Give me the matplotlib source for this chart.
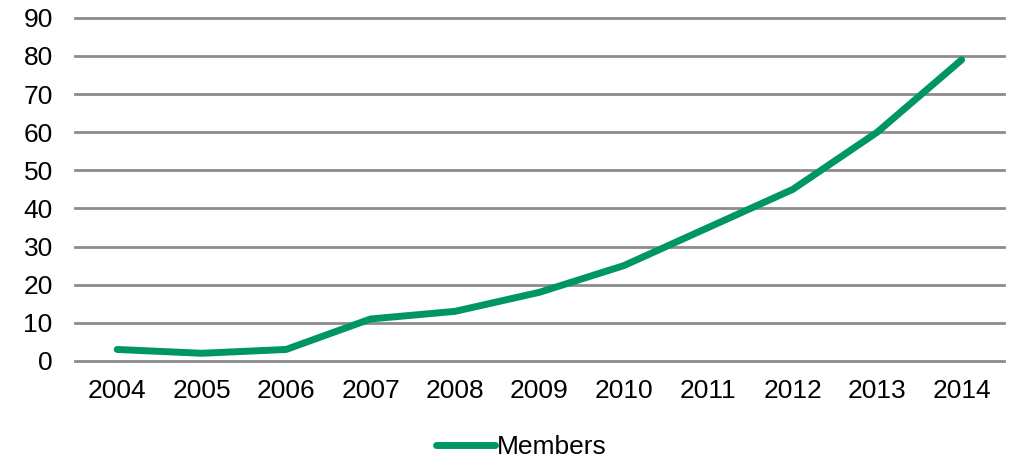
import matplotlib
matplotlib.use("Agg")
import matplotlib.pyplot as plt

years = ["2004", "2005", "2006", "2007", "2008", "2009", "2010", "2011", "2012", "2013", "2014"]
members = [3, 2, 3, 11, 13, 18, 25, 35, 45, 60, 79]
y_ticks = [0, 10, 20, 30, 40, 50, 60, 70, 80, 90]

plt.rcParams['font.family'] = ['Liberation Sans', 'DejaVu Sans']

fig = plt.figure(figsize=(10.13, 4.58), dpi=100)
ax = fig.add_axes([0.074, 0.212, 0.917, 0.749])

x = list(range(len(years)))
ax.plot(x, members, color='#009664', linewidth=5.0, solid_capstyle='round',
        solid_joinstyle='round', label='Members', zorder=3)

ax.set_xlim(-0.5, len(years) - 0.5)
ax.set_ylim(0, 90)
ax.set_yticks(y_ticks)
ax.set_xticks(x)
ax.set_xticklabels(years)
ax.tick_params(axis='both', length=0, labelsize=19, colors='black')
ax.tick_params(axis='x', pad=13)
ax.tick_params(axis='y', pad=16)

ax.grid(axis='y', color='#8c8c8c', linewidth=2.0)
ax.set_axisbelow(True)
# keep the top and bottom grid lines full width
for gl in ax.get_ygridlines():
    gl.set_clip_on(False)
for s in ax.spines.values():
    s.set_visible(False)

leg = fig.legend(loc='center', bbox_to_anchor=(0.515, 0.024), frameon=False,
                 fontsize=19, handlelength=2.2, handletextpad=0.1,
                 borderpad=0, borderaxespad=0)

fig.savefig("out.png", dpi=100)
